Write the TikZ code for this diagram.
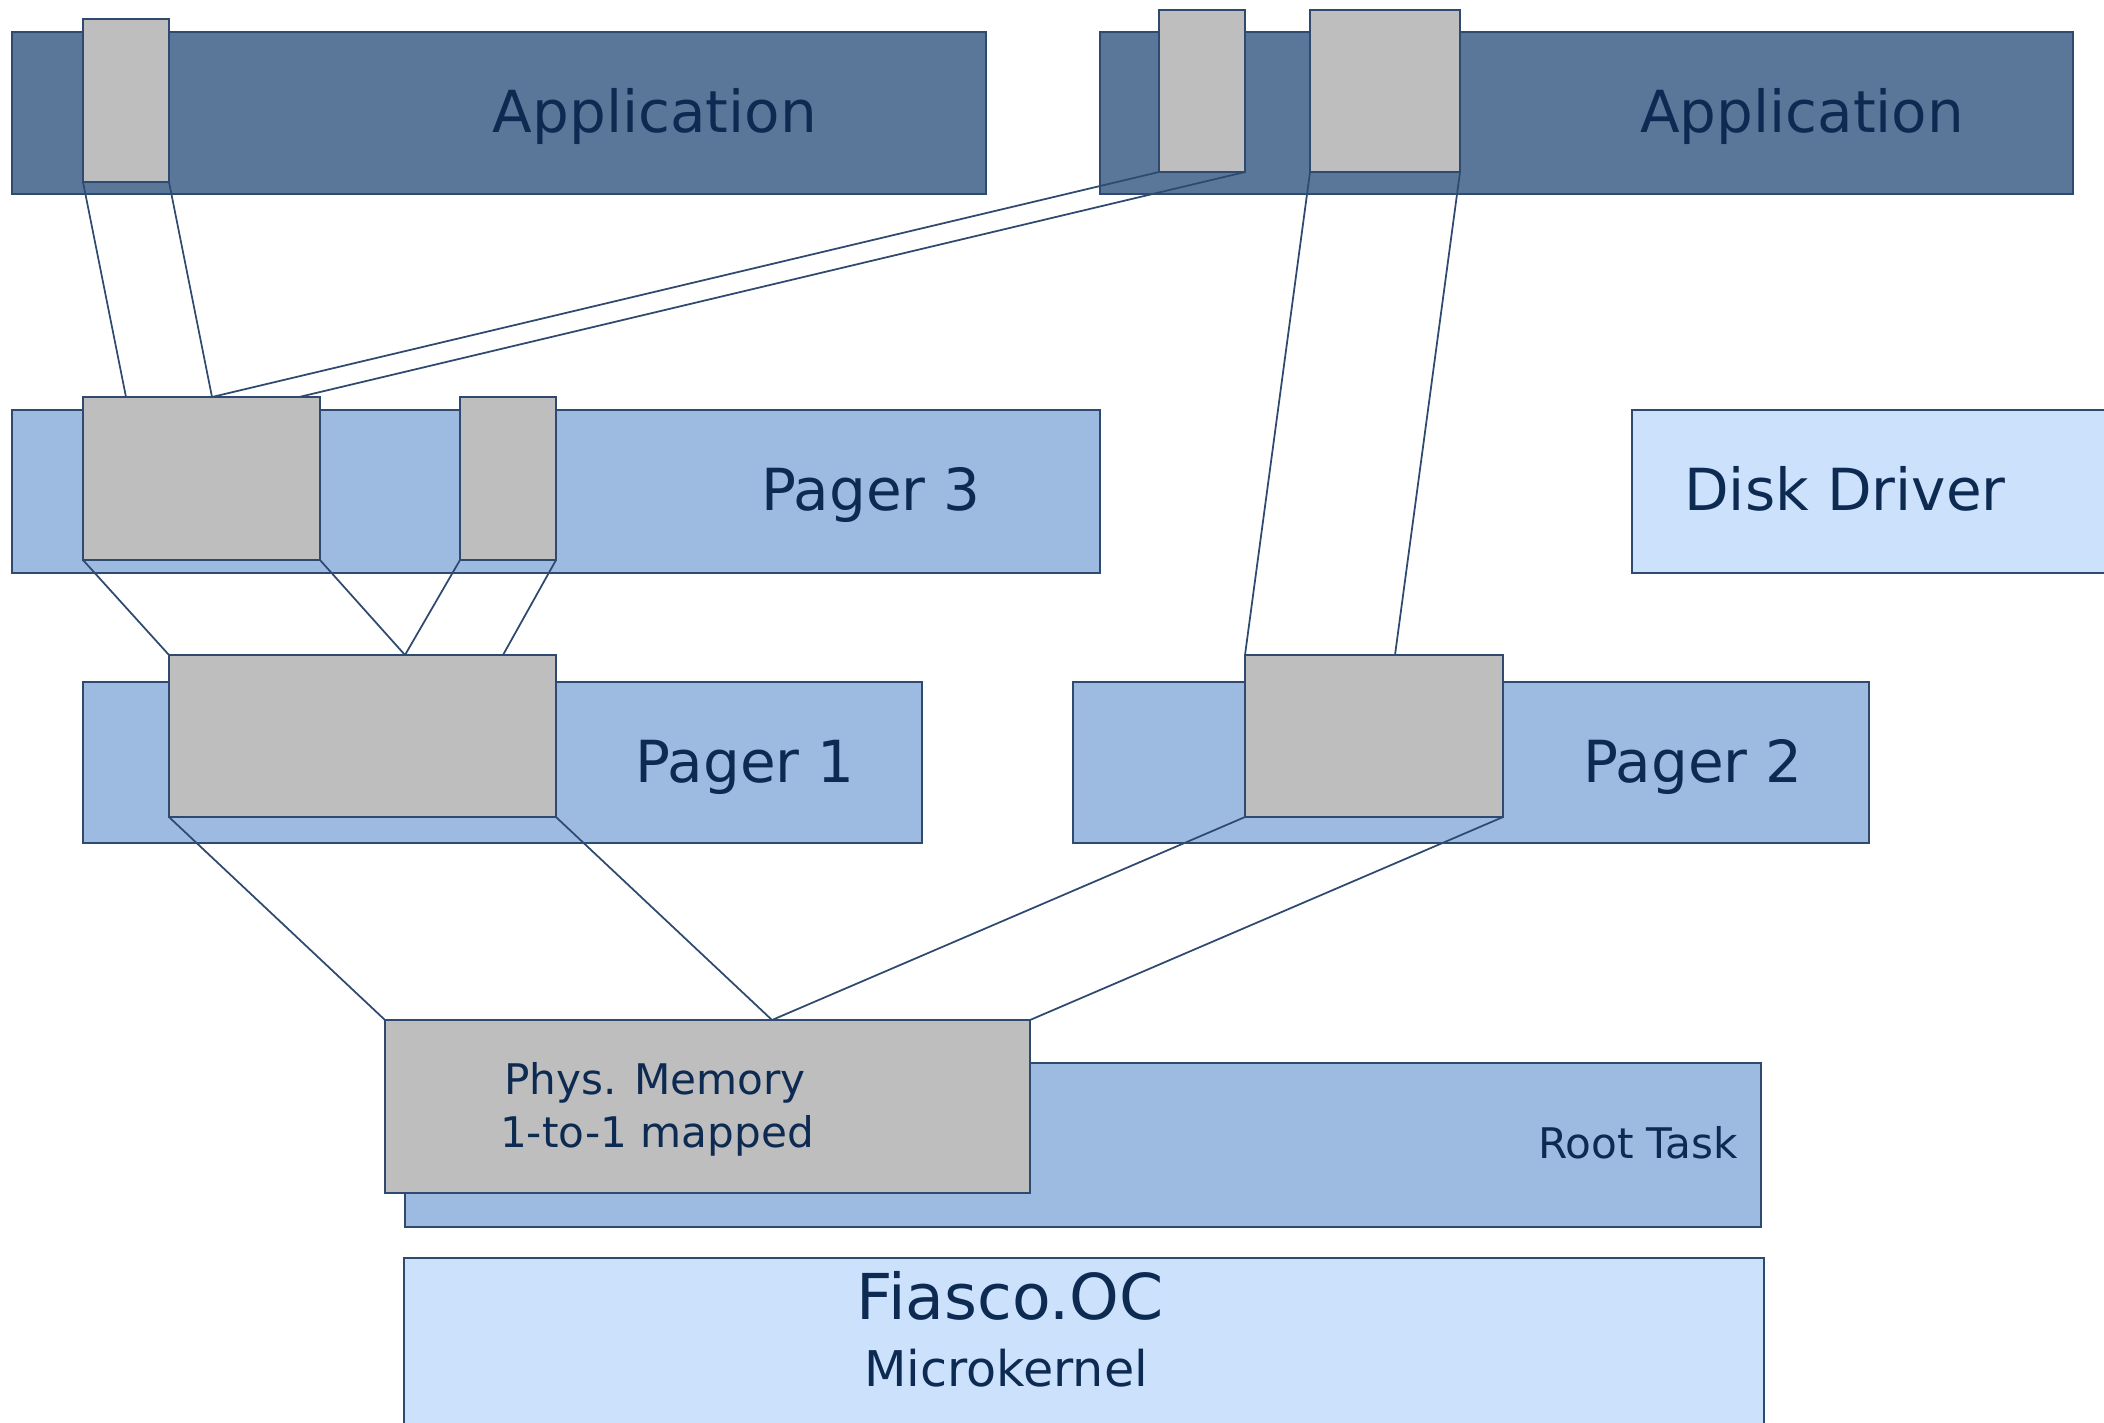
\documentclass[tikz,border=0pt]{standalone}
\usepackage{fontspec}
\setmainfont{DejaVu Sans}
\usepackage{xcolor}

\definecolor{appblue}{HTML}{5A7799}
\definecolor{pagerblue}{HTML}{9DBBE1}
\definecolor{lightblue}{HTML}{CCE1FB}
\definecolor{memgray}{HTML}{BEBEBE}
\definecolor{edge}{HTML}{2E4A70}
\definecolor{txt}{HTML}{0D2A52}

\begin{document}
\begin{tikzpicture}[every node/.style={inner sep=0pt, outer sep=0pt},
    box/.style={draw=edge, line width=0.5pt, anchor=north west},
    page/.style={box, fill=memgray},
    big/.style={text=txt, anchor=base, font=\fontsize{16.5}{20}\selectfont},
    small/.style={text=txt, anchor=base, font=\fontsize{12}{14}\selectfont},
    map/.style={draw=edge, line width=0.5pt}]
            \useasboundingbox (0,0) rectangle (21.04,-14.22);

            \node[box, fill=appblue,    minimum width=9.74cm,  minimum height=1.62cm] (app1)   at (0.12,-0.32)  {};
            \node[box, fill=appblue,    minimum width=9.73cm,  minimum height=1.62cm] (app2)   at (11.00,-0.32) {};
            \node[box, fill=pagerblue,  minimum width=10.88cm, minimum height=1.63cm] (pager3) at (0.12,-4.10)  {};
            \node[box, fill=lightblue,  minimum width=5.00cm,  minimum height=1.63cm] (disk)   at (16.32,-4.10) {};
            \node[box, fill=pagerblue,  minimum width=8.39cm,  minimum height=1.61cm] (pager1) at (0.83,-6.82)  {};
            \node[box, fill=pagerblue,  minimum width=7.96cm,  minimum height=1.61cm] (pager2) at (10.73,-6.82) {};
            \node[box, fill=pagerblue,  minimum width=13.56cm, minimum height=1.64cm] (root)   at (4.05,-10.63) {};
            \node[box, fill=lightblue,  minimum width=13.60cm, minimum height=2.00cm] (kernel) at (4.04,-12.58) {};

            \node[page, minimum width=0.86cm, minimum height=1.63cm] (a1)   at (0.83,-0.19)  {};
            \node[page, minimum width=0.86cm, minimum height=1.62cm] (a2)   at (11.59,-0.10) {};
            \node[page, minimum width=1.50cm, minimum height=1.62cm] (a3)   at (13.10,-0.10) {};
            \node[page, minimum width=2.37cm, minimum height=1.63cm] (p3a)  at (0.83,-3.97)  {};
            \node[page, minimum width=0.96cm, minimum height=1.63cm] (p3b)  at (4.60,-3.97)  {};
            \node[page, minimum width=3.87cm, minimum height=1.62cm] (p1)   at (1.69,-6.55)  {};
            \node[page, minimum width=2.58cm, minimum height=1.62cm] (p2)   at (12.45,-6.55) {};
            \node[page, minimum width=6.45cm, minimum height=1.73cm] (phys) at (3.85,-10.20) {};

            \node[big] (tapp1)   at (6.55,-1.32)  {Application};
            \node[big] (tapp2)   at (18.02,-1.32) {Application};
            \node[big] (tpager3) at (8.71,-5.10)  {Pager 3};
            \node[big] (tdisk)   at (18.45,-5.10) {Disk Driver};
            \node[big] (tpager1) at (7.45,-7.82)  {Pager 1};
            \node[big] (tpager2) at (16.93,-7.82) {Pager 2};
            \node[small] (tphys)  at (6.55,-10.94) {Phys. Memory};
            \node[small] (tmap)   at (6.57,-11.47) {1-to-1 mapped};
            \node[small] (troot)  at (16.38,-11.58) {Root Task};
            \node[text=txt, anchor=base, font=\fontsize{18}{22}\selectfont] (tkernel) at (10.10,-13.19) {Fiasco.OC};
            \node[text=txt, anchor=base, font=\fontsize{14}{17}\selectfont] (tmicro)  at (10.06,-13.86) {Microkernel};

            \coordinate (m1) at (1.26,-3.97);
            \coordinate (m2) at (2.12,-3.97);
            \coordinate (m3) at (2.99,-3.97);
            \coordinate (m4) at (13.95,-6.55);
            \coordinate (m5) at (4.05,-6.55);
            \coordinate (m6) at (5.03,-6.55);
            \coordinate (m7) at (7.72,-10.20);

            \draw[map] (a1.south west) -- (m1);
            \draw[map] (a1.south east) -- (m2);
            \draw[map] (a2.south west) -- (m2);
            \draw[map] (a2.south east) -- (m3);
            \draw[map] (a3.south west) -- (p2.north west);
            \draw[map] (a3.south east) -- (m4);

            \draw[map] (p3a.south west) -- (p1.north west);
            \draw[map] (p3a.south east) -- (m5);
            \draw[map] (p3b.south west) -- (m5);
            \draw[map] (p3b.south east) -- (m6);

            \draw[map] (p1.south west) -- (phys.north west);
            \draw[map] (p1.south east) -- (m7);
            \draw[map] (p2.south west) -- (m7);
            \draw[map] (p2.south east) -- (phys.north east);
        \end{tikzpicture}
\end{document}
